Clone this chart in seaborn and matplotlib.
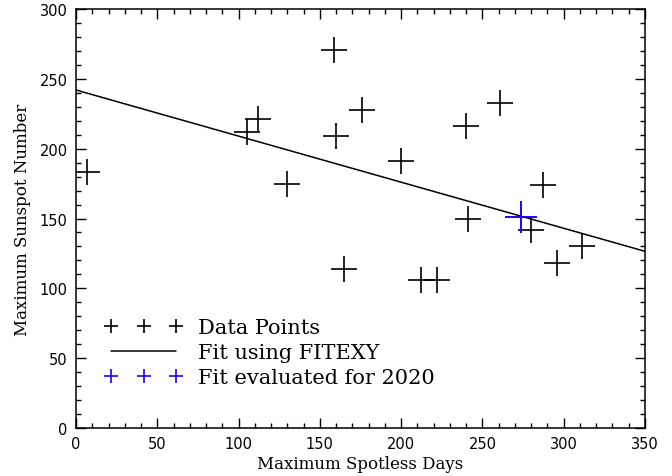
import numpy as np
import pandas as pd
import matplotlib
matplotlib.use("Agg")
import matplotlib.pyplot as plt
from matplotlib.lines import Line2D
from matplotlib.ticker import MultipleLocator
import seaborn as sns

# ---- data ----
spotless_days = [7, 105, 112, 130, 159, 160, 165, 176, 200, 212, 222, 240, 241, 261, 280, 287, 296, 311]
sunspot_max   = [183, 212, 221, 175, 271, 209, 114, 228, 191, 106, 106, 216, 150, 233, 142, 174, 118, 130]

pred_days = [274]
pred_sunspot = [151]

fit_intercept = 242.0
fit_slope = -0.33
fit_x_range = [0, 350]

legend_labels = ["Data Points", "Fit using FITEXY", "Fit evaluated for 2020"]

# ---- figure ----
sns.set_theme(style="ticks")
plt.rcParams["font.family"] = ["DejaVu Sans"]
plt.rcParams["text.color"] = "black"

fig = plt.figure(figsize=(6.72, 4.77), dpi=100)
ax = fig.add_axes([76/672, 1-429/477, (645-76)/672, (429-10)/477])

df = pd.DataFrame({"x": spotless_days, "y": sunspot_max})
sns.scatterplot(data=df, x="x", y="y", marker="+", s=330, color="black",
                linewidth=1.2, ax=ax, legend=False, zorder=3)

fx = np.array(fit_x_range, dtype=float)
fit_df = pd.DataFrame({"x": fx, "y": fit_intercept + fit_slope * fx})
sns.lineplot(data=fit_df, x="x", y="y", color="black", linewidth=1.1, ax=ax, zorder=2)

pdf = pd.DataFrame({"x": pred_days, "y": pred_sunspot})
sns.scatterplot(data=pdf, x="x", y="y", marker="+", s=500, color="#1f00ff",
                linewidth=1.4, ax=ax, legend=False, zorder=4)

ax.set_xlim(0, 350)
ax.set_ylim(0, 300)
ax.xaxis.set_major_locator(MultipleLocator(50))
ax.xaxis.set_minor_locator(MultipleLocator(10))
ax.yaxis.set_major_locator(MultipleLocator(50))
ax.yaxis.set_minor_locator(MultipleLocator(10))
ax.tick_params(which="both", direction="in", top=True, right=True, color="black", width=1.0)
ax.tick_params(which="major", length=7.5, labelsize=10.5, labelcolor="black", pad=6)
ax.tick_params(which="minor", length=3.6)
for s in ax.spines.values():
    s.set_color("black")
    s.set_linewidth(1.1)

serif = ["DejaVu Serif"]
ax.set_xlabel("Maximum Spotless Days", family=serif, fontsize=12, color="black", labelpad=3)
ax.set_ylabel("Maximum Sunspot Number", family=serif, fontsize=12, color="black", labelpad=6)

handles = [
    Line2D([], [], color="black", marker="+", linestyle="none", markersize=10, markeredgewidth=1.2),
    Line2D([], [], color="black", linewidth=1.1),
    Line2D([], [], color="#1f00ff", marker="+", linestyle="none", markersize=10, markeredgewidth=1.2),
]
leg = ax.legend(handles, legend_labels, loc="lower left", bbox_to_anchor=(0.05, 0.097),
                frameon=False, numpoints=3, handlelength=3.75, handletextpad=0.75,
                labelspacing=0.29, borderpad=0, borderaxespad=0, labelcolor="black",
                prop={"family": serif, "size": 15})

fig.savefig("out.png", dpi=100)
